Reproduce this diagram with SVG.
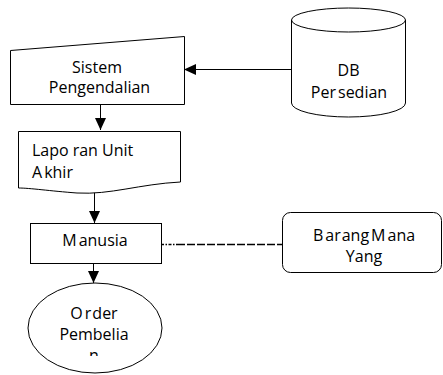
<svg xmlns="http://www.w3.org/2000/svg" width="443" height="375" viewBox="0 0 443 375">
  <style>
    .shape { fill: #ffffff; stroke: #000000; stroke-width: 1; }
    .label { font-family: "Open Sans", "Liberation Sans", sans-serif; font-size: 16px; fill: #000000; }
    .mid { text-anchor: middle; }
    .link { fill: none; stroke: #000000; stroke-width: 1; }
    .dashed { fill: none; stroke: #000000; stroke-width: 1.5; }
  </style>
  <defs>
    <marker id="arrow" markerUnits="userSpaceOnUse" markerWidth="13" markerHeight="12" refX="12" refY="5.5" orient="auto">
      <path d="M0,0 L12,5.5 L0,11 Z" fill="#000000"/>
    </marker>
    <clipPath id="orderClip">
      <rect x="0" y="0" width="443" height="356"/>
    </clipPath>
  </defs>

  <!-- connectors -->
  <g id="connectors">
    <line class="link" x1="291" y1="69.5" x2="184" y2="69.5" marker-end="url(#arrow)"/>
    <line class="link" x1="100.5" y1="104" x2="100.5" y2="130" marker-end="url(#arrow)"/>
    <line class="link" x1="94.5" y1="192" x2="94.5" y2="223" marker-end="url(#arrow)"/>
    <line class="link" x1="93.5" y1="263" x2="93.5" y2="283" marker-end="url(#arrow)"/>
    <line class="dashed" x1="161" y1="244.5" x2="177" y2="244.5" stroke-dasharray="3 1.5 1.5 1.5"/>
    <line class="dashed" x1="177" y1="244.5" x2="282" y2="244.5" stroke-dasharray="8 2"/>
  </g>

  <!-- manual input: Sistem Pengendalian -->
  <g id="sistem-pengendalian">
    <polygon class="shape" points="10.5,50.5 184.5,36.5 184.5,104.5 10.5,104.5"/>
    <text class="label mid" x="97" y="73">Sistem</text>
    <text class="label mid" x="99.5" y="93">Pengendalian</text>
  </g>

  <!-- database: DB Persedian -->
  <g id="db-persedian">
    <path class="shape" d="M291.5,20 A57,12 0 0,1 405.5,20 V103 A57,14 0 0,1 291.5,103 Z"/>
    <path class="link" d="M291.5,20 A57,12 0 0,0 405.5,20"/>
    <text class="label mid" x="348.5" y="76">DB</text>
    <text class="label mid" x="349" y="98">Per<tspan dx="2">sedian</tspan></text>
  </g>

  <!-- document: Laporan Unit Akhir -->
  <g id="laporan-unit-akhir">
    <path class="shape" d="M18.5,131.5 H180.5 V182 C140,184 110,195 77,193 C50,191 30,188 18.5,188 Z"/>
    <text class="label" x="32" y="156">Lapo<tspan dx="4">ran Unit</tspan></text>
    <text class="label" x="32" y="178">A<tspan dx="2">khir</tspan></text>
  </g>

  <!-- process: Manusia -->
  <g id="manusia">
    <rect class="shape" x="30.5" y="223.5" width="131" height="40"/>
    <text class="label mid" x="95" y="246">M<tspan dx="2">anusia</tspan></text>
  </g>

  <!-- terminal: Barang Mana Yang -->
  <g id="barang-mana-yang">
    <rect class="shape" x="282.5" y="212.5" width="159" height="60" rx="8" ry="8"/>
    <text class="label mid" x="364" y="241">B<tspan dx="2">ar</tspan><tspan dx="1">ang</tspan><tspan dx="2">M</tspan><tspan dx="2">ana</tspan></text>
    <text class="label mid" x="364" y="262">Yang</text>
  </g>

  <!-- ellipse: Order Pembelian -->
  <g id="order-pembelian">
    <ellipse class="shape" cx="95" cy="328" rx="67" ry="45"/>
    <g clip-path="url(#orderClip)">
      <text class="label mid" x="94" y="319">O<tspan dx="2">r</tspan><tspan dx="1">der</tspan></text>
      <text class="label mid" x="94" y="340">Pembelia</text>
      <text class="label mid" x="94" y="361">n</text>
    </g>
  </g>
</svg>
